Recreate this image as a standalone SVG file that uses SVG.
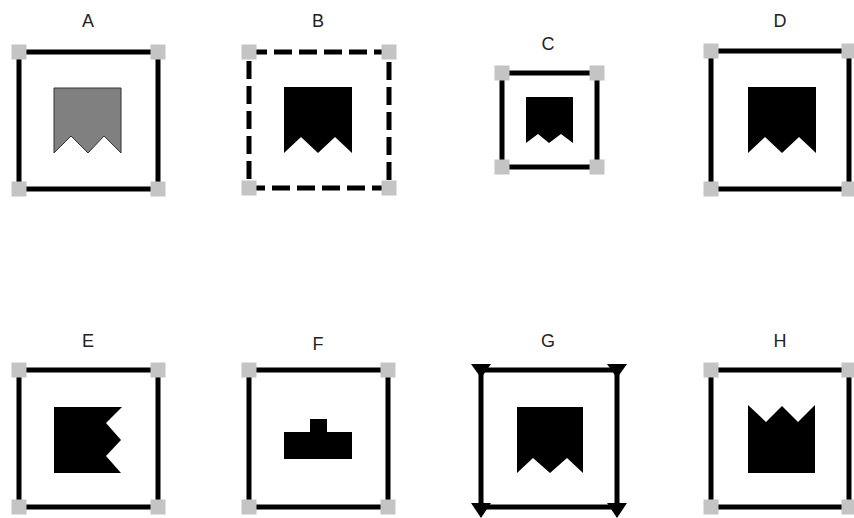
<svg xmlns="http://www.w3.org/2000/svg" width="854" height="518" viewBox="0 0 854 518">
<style>
.lbl{font-family:"Liberation Sans",Arial,sans-serif;font-size:18px;fill:#222;text-anchor:middle}
.fr{fill:none;stroke:#000;stroke-width:5}
.dash{stroke-dasharray:18,7}
.cn{fill:#c4c4c4}
.sh{fill:#000}
.shg{fill:#808080;stroke:#333;stroke-width:1}
</style>
<defs>
<rect id="sq" x="-7.5" y="-7.5" width="15" height="15" class="cn"/>
</defs>
<rect width="854" height="518" fill="#fff"/>
<g id="A">
<text class="lbl" x="88" y="27">A</text>
<rect class="fr" x="19" y="52" width="139" height="137"/>
<use href="#sq" x="19" y="52"/><use href="#sq" x="158" y="52"/><use href="#sq" x="19" y="189"/><use href="#sq" x="158" y="189"/>
<polygon class="shg" points="54,88 121,88 121,153 104,136 88,153 71,136 54,153"/>
</g>
<g id="B">
<text class="lbl" x="318" y="27">B</text>
<rect class="fr dash" x="249" y="52" width="140" height="136"/>
<use href="#sq" x="249" y="52"/><use href="#sq" x="389" y="52"/><use href="#sq" x="249" y="188"/><use href="#sq" x="389" y="188"/>
<polygon class="sh" points="284,87 352,87 352,153 335,137 318,153 301,137 284,153"/>
</g>
<g id="C">
<text class="lbl" x="548" y="50">C</text>
<rect class="fr" x="502" y="73" width="95" height="94"/>
<use href="#sq" x="502" y="73"/><use href="#sq" x="597" y="73"/><use href="#sq" x="502" y="167"/><use href="#sq" x="597" y="167"/>
<polygon class="sh" points="526,97 573,97 573,143 561,134 549,143 538,134 526,143"/>
</g>
<g id="D">
<text class="lbl" x="780" y="27">D</text>
<rect class="fr" x="711" y="51" width="138" height="138"/>
<use href="#sq" x="711" y="51"/><use href="#sq" x="849" y="51"/><use href="#sq" x="711" y="189"/><use href="#sq" x="849" y="189"/>
<polygon class="sh" points="748,87 816,87 816,153 799,137 782,153 765,137 748,153"/>
</g>
<g id="E">
<text class="lbl" x="88" y="347">E</text>
<rect class="fr" x="19" y="370" width="139" height="137"/>
<use href="#sq" x="19" y="370"/><use href="#sq" x="158" y="370"/><use href="#sq" x="19" y="507"/><use href="#sq" x="158" y="507"/>
<polygon class="sh" points="54,407 122,407 106,423 121,440 106,456 121,473 54,473"/>
</g>
<g id="F">
<text class="lbl" x="318" y="350">F</text>
<rect class="fr" x="249" y="370" width="139" height="137"/>
<use href="#sq" x="249" y="370"/><use href="#sq" x="388" y="370"/><use href="#sq" x="249" y="507"/><use href="#sq" x="388" y="507"/>
<polygon class="sh" points="284,432 310,432 310,419 327,419 327,432 352,432 352,459 284,459"/>
</g>
<g id="G">
<text class="lbl" x="548" y="347">G</text>
<rect class="fr" x="481" y="370" width="136" height="137"/>
<polygon class="sh" points="471,364 491,364 481,378"/>
<polygon class="sh" points="607,364 627,364 617,378"/>
<polygon class="sh" points="471,503 491,503 481,518"/>
<polygon class="sh" points="607,503 627,503 617,518"/>
<polygon class="sh" points="517,407 583,407 583,473 567,458 550,473 533,458 517,473"/>
</g>
<g id="H">
<text class="lbl" x="780" y="347">H</text>
<rect class="fr" x="711" y="370" width="138" height="137"/>
<use href="#sq" x="711" y="370"/><use href="#sq" x="849" y="370"/><use href="#sq" x="711" y="507"/><use href="#sq" x="849" y="507"/>
<polygon class="sh" points="748,405 766,422 782,406 798,422 815,405 815,473 748,473"/>
</g>
<g id="connectors"></g>
</svg>
